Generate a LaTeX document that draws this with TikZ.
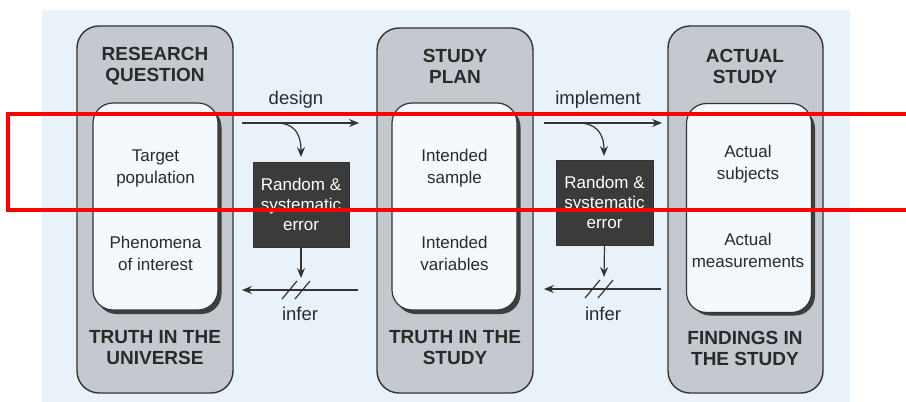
\documentclass[tikz,border=0pt]{standalone}
\usepackage{fontspec}
\setmainfont{Liberation Sans}
\usetikzlibrary{arrows.meta}
\definecolor{bgblue}{HTML}{E8F2F8}
\definecolor{panelgray}{HTML}{C4C9CF}
\definecolor{edgegray}{HTML}{333333}
\definecolor{innerwhite}{HTML}{F3F9FC}
\definecolor{shadowgray}{HTML}{3E3E3E}
\definecolor{errbox}{HTML}{3B3B3B}
\definecolor{txt}{HTML}{2A2A2A}
\tikzset{
  panel/.style={draw=edgegray, line width=1.4pt, fill=panelgray, rounded corners=22pt, inner sep=0pt},
  innerbox/.style={draw=edgegray, line width=1.2pt, fill=innerwhite, rounded corners=20pt, inner sep=0pt, minimum width=125pt, minimum height=207pt},
  shadowbox/.style={fill=shadowgray, rounded corners=20pt, inner sep=0pt, minimum width=125pt, minimum height=207pt},
  title/.style={align=center, text=txt, font=\fontsize{19}{21}\selectfont\bfseries},
  body/.style={align=center, text=txt, font=\fontsize{17}{22}\selectfont},
  errnode/.style={fill=errbox, draw=edgegray, text=white, align=center, inner sep=0pt, minimum width=96pt, minimum height=85pt, font=\fontsize{17}{20}\selectfont},
  lab/.style={text=txt, font=\fontsize{18.5}{20}\selectfont},
  conn/.style={draw=edgegray, line width=1.2pt, -{Stealth[length=10pt,width=8pt,inset=3.5pt]}},
  plainline/.style={draw=edgegray, line width=1.2pt},
}
\begin{document}
\begin{tikzpicture}[x=1pt,y=-1pt]
\useasboundingbox (0,0) rectangle (906,402);
\fill[white] (0,0) rectangle (906,402);
\fill[bgblue] (42,10) rectangle (850,402);

% panels
\node[panel, minimum width=156pt, minimum height=367pt] (P1) at (155,209.5) {};
\node[panel, minimum width=156pt, minimum height=365pt] (P2) at (455,210.5) {};
\node[panel, minimum width=155pt, minimum height=367pt] (P3) at (745.5,209.5) {};

% inner boxes with shadows
\node[shadowbox] (S1) at (159,210.5) {};
\node[innerbox] (I1) at (155.5,206.5) {};
\node[shadowbox] (S2) at (458,210.5) {};
\node[innerbox] (I2) at (454.5,206.5) {};
\node[shadowbox] (S3) at (752.5,212) {};
\node[innerbox, minimum height=209pt] (I3) at (749,208) {};

% titles
\node[title] (T1) at (155,66) {RESEARCH\\QUESTION};
\node[title] (T2) at (455,66) {STUDY\\PLAN};
\node[title] (T3) at (745,66) {ACTUAL\\STUDY};
\node[title] (B1) at (155,348) {TRUTH IN THE\\UNIVERSE};
\node[title] (B2) at (455,348) {TRUTH IN THE\\STUDY};
\node[title] (B3) at (745,348) {FINDINGS IN\\THE STUDY};

% body texts
\node[body] (t1a) at (155.5,168) {Target\\population};
\node[body] (t1b) at (155.5,253) {Phenomena\\of interest};
\node[body] (t2a) at (454.5,168) {Intended\\sample};
\node[body] (t2b) at (454.5,253) {Intended\\variables};
\node[body] (t3a) at (748,164) {Actual\\subjects};
\node[body] (t3b) at (748,250) {Actual\\measurements};

% error boxes
\node[errnode] (E1) at (301,204.5) {Random \&\\systematic\\error};
\node[errnode, minimum width=97pt] (E2) at (604.5,202.5) {Random \&\\systematic\\error};

% labels
\node[lab] (L1) at (296,100) {design};
\node[lab] (L2) at (598,100) {implement};
\node[lab] (L3) at (300,314) {infer};
\node[lab] (L4) at (603,314) {infer};

% connector coordinates
\coordinate (d1s) at (242,123);
\coordinate (d1e) at (359,123);
\coordinate (c1s) at (276,123);
\coordinate (c1e) at (301,157);
\coordinate (e1d) at (301,278);
\coordinate (i1s) at (358,290);
\coordinate (i1e) at (242,290);
\coordinate (d2s) at (544,123);
\coordinate (d2e) at (662,123);
\coordinate (c2s) at (578,123);
\coordinate (c2e) at (604,156);
\coordinate (e2d) at (604,277);
\coordinate (i2s) at (661,289);
\coordinate (i2e) at (544,289);

% design / implement arrows
\draw[conn] (d1s) -- (d1e);
\draw[conn] (c1s) .. controls (294,123) and (301,133) .. (c1e);
\draw[conn] (d2s) -- (d2e);
\draw[conn] (c2s) .. controls (596,123) and (604,133) .. (c2e);

% error to infer
\draw[conn] (E1.south) -- (e1d);
\draw[conn] (E2.south) -- (e2d);

% infer arrows with double slash
\draw[conn] (i1s) -- (i1e);
\draw[plainline] (282,299) -- (297,281);
\draw[plainline] (295,299) -- (310,281);
\draw[conn] (i2s) -- (i2e);
\draw[plainline] (585,298) -- (600,280);
\draw[plainline] (598,298) -- (613,280);

% red highlight frame
\draw[red, line width=3.5pt] (8,114) rectangle (915,210);
\end{tikzpicture}
\end{document}
